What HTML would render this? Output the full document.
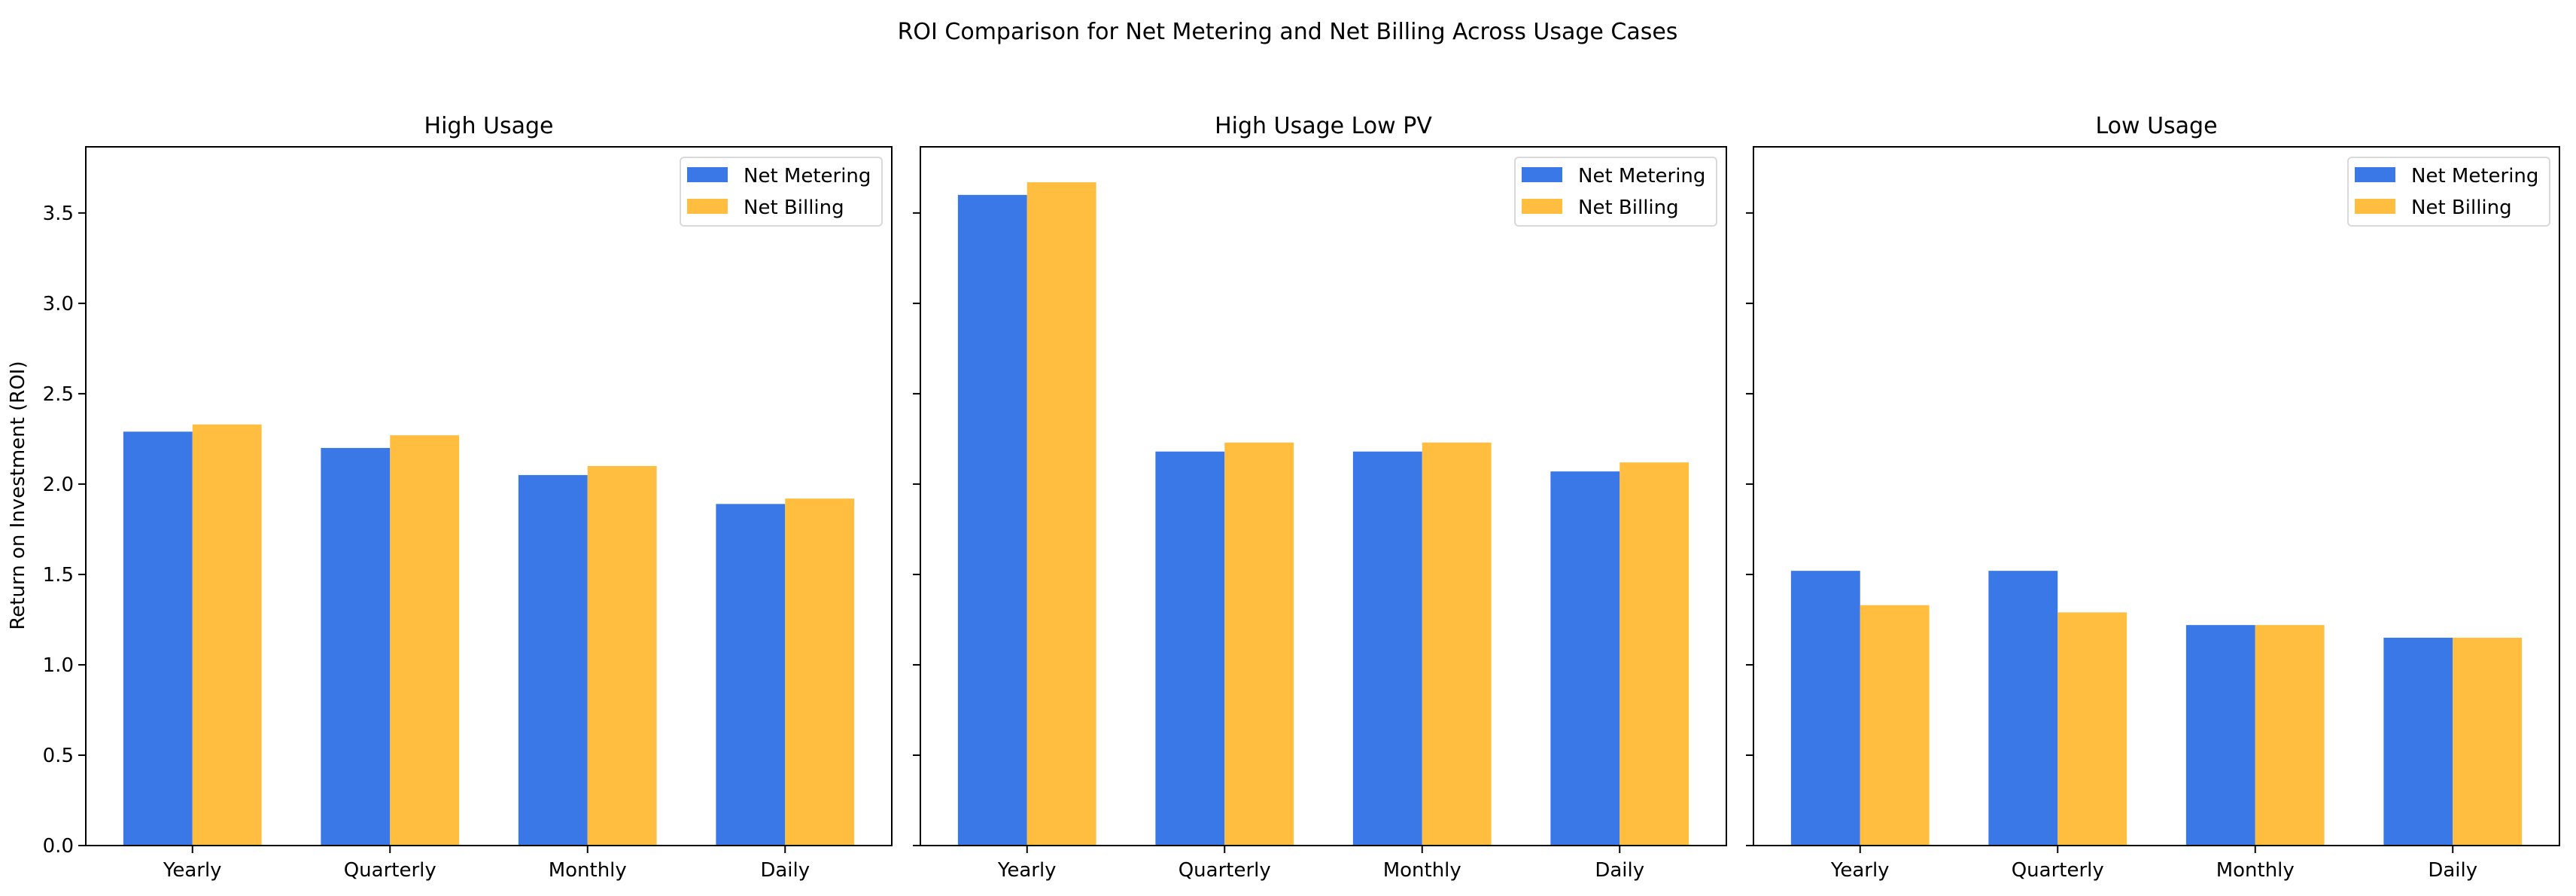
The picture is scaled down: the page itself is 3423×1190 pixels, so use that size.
<!DOCTYPE html>
<html><head><meta charset="utf-8">
<style>
html,body{margin:0;padding:0;background:#fff;}
svg{display:block;font-family:"DejaVu Sans","Liberation Sans",sans-serif;}
</style></head>
<body>
<svg id="chart" width="3423" height="1190" viewBox="0 0 3423 1190" xmlns="http://www.w3.org/2000/svg">
<text x="1711" y="52" text-anchor="middle" font-size="30" fill="#000">ROI Comparison for Net Metering and Net Billing Across Usage Cases</text>
<text transform="translate(32,658) rotate(-90)" text-anchor="middle" font-size="26" fill="#000">Return on Investment (ROI)</text>
</svg>
<script>
const panelTitles = ["High Usage", "High Usage Low PV", "Low Usage"];
const categories = ["Yearly", "Quarterly", "Monthly", "Daily"];
const netMetering = [
  [2.29, 2.20, 2.05, 1.89],
  [3.60, 2.18, 2.18, 2.07],
  [1.52, 1.52, 1.22, 1.15]
];
const netBilling = [
  [2.33, 2.27, 2.10, 1.92],
  [3.67, 2.23, 2.23, 2.12],
  [1.33, 1.29, 1.22, 1.15]
];
const yTicks = [0, 0.5, 1.0, 1.5, 2.0, 2.5, 3.0, 3.5];
const seriesNames = ["Net Metering", "Net Billing"];

const NS = "http://www.w3.org/2000/svg";
const svg = document.getElementById('chart');
const panelLefts = [114, 1223, 2330];
const PW = 1071, TOP = 195, BOT = 1123;
const YMAX = 3.866, XMIN = -0.54, XMAX = 3.54, BARW = 0.35;
const BLUE = "#3b78e7", ORANGE = "#ffbe40";

function mk(tag, attrs, parent) {
  const e = document.createElementNS(NS, tag);
  for (const k in attrs) e.setAttribute(k, attrs[k]);
  (parent || svg).appendChild(e);
  return e;
}
function yScale(v) { return BOT - v / YMAX * (BOT - TOP); }

panelLefts.forEach((L, p) => {
  const xScale = x => L + (x - XMIN) / (XMAX - XMIN) * PW;
  const g = mk('g', {});
  
  

  const t = mk('text', {x: L + PW / 2, y: 177, 'text-anchor': 'middle', 'font-size': 30, fill: '#000'}, g);
  t.textContent = panelTitles[p];
  
  

  categories.forEach((c, i) => {
    const b1 = mk('rect', {x: xScale(i - BARW), y: yScale(netMetering[p][i]), width: xScale(i) - xScale(i - BARW), height: BOT - yScale(netMetering[p][i]), fill: BLUE}, g);
    
    
    const b2 = mk('rect', {x: xScale(i), y: yScale(netBilling[p][i]), width: xScale(i + BARW) - xScale(i), height: BOT - yScale(netBilling[p][i]), fill: ORANGE}, g);
    
    
    mk('line', {x1: xScale(i), x2: xScale(i), y1: BOT, y2: BOT + 10, stroke: '#000', 'stroke-width': 2}, g);
    const lbl = mk('text', {x: xScale(i), y: BOT + 41, 'text-anchor': 'middle', 'font-size': 26, fill: '#000'}, g);
    lbl.textContent = c;
    
    
  });

  yTicks.forEach(v => {
    mk('line', {x1: L - 10, x2: L, y1: yScale(v), y2: yScale(v), stroke: '#000', 'stroke-width': 2}, g);
    if (p === 0) {
      const tl = mk('text', {x: L - 16, y: yScale(v) + 9, 'text-anchor': 'end', 'font-size': 26, fill: '#000'}, g);
      tl.textContent = v.toFixed(1);
      
      
    }
  });

  const frame = mk('rect', {x: L, y: TOP, width: PW, height: BOT - TOP, fill: 'none', stroke: '#000', 'stroke-width': 2}, g);
  
  

  const R = L + PW;
  const lg = mk('g', {}, g);
  
  
  mk('rect', {x: R - 281, y: 209, width: 268, height: 91, rx: 5, fill: '#fff', stroke: '#d9d9d9', 'stroke-width': 2}, lg);
  [BLUE, ORANGE].forEach((col, k) => {
    const e = mk('g', {}, lg);
    
    
    mk('rect', {x: R - 272, y: 222 + k * 42, width: 54, height: 20, fill: col}, e);
    const tx = mk('text', {x: R - 197, y: 242 + k * 42, 'font-size': 26, fill: '#000'}, e);
    tx.textContent = seriesNames[k];
  });
});
</script>
</body></html>
